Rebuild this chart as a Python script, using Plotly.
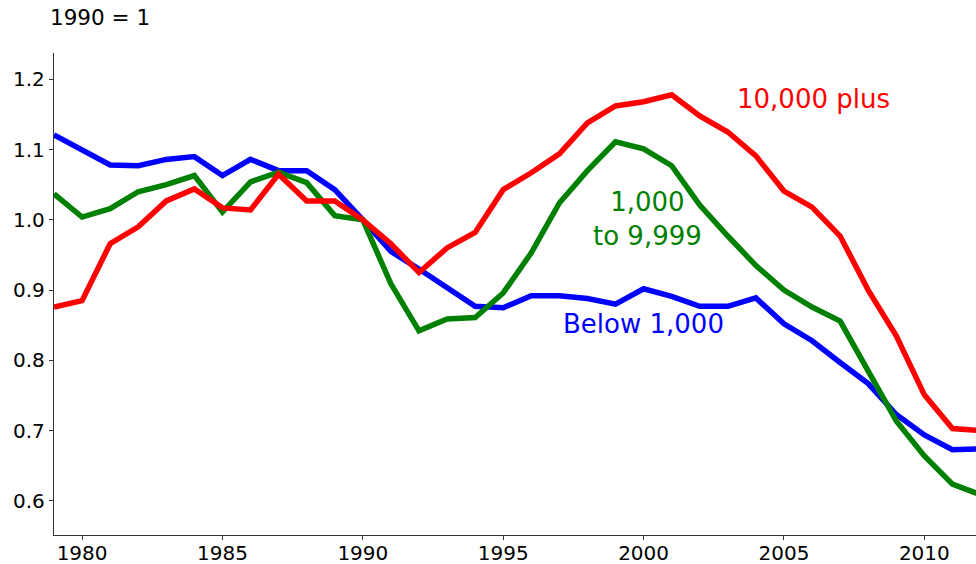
import plotly.graph_objects as go

years = list(range(1979, 2013))

below_1000 = [1.121, 1.100, 1.078, 1.077, 1.086, 1.090, 1.063, 1.086, 1.070, 1.070,
              1.043, 1.000, 0.955, 0.930, 0.903, 0.877, 0.875, 0.892, 0.892, 0.888,
              0.880, 0.902, 0.891, 0.877, 0.877, 0.889, 0.852, 0.828, 0.797, 0.767,
              0.723, 0.694, 0.673, 0.674]

mid_1000_9999 = [1.037, 1.004, 1.016, 1.040, 1.050, 1.063, 1.011, 1.054, 1.068, 1.053,
                 1.006, 1.000, 0.909, 0.842, 0.859, 0.861, 0.896, 0.953, 1.024, 1.070,
                 1.111, 1.101, 1.077, 1.021, 0.977, 0.935, 0.900, 0.876, 0.856, 0.785,
                 0.714, 0.664, 0.624, 0.609]

plus_10000 = [0.876, 0.885, 0.966, 0.990, 1.027, 1.044, 1.017, 1.014, 1.065, 1.027,
              1.027, 1.000, 0.966, 0.925, 0.960, 0.982, 1.043, 1.067, 1.094, 1.138,
              1.162, 1.168, 1.178, 1.148, 1.125, 1.091, 1.041, 1.018, 0.977, 0.900,
              0.835, 0.751, 0.703, 0.700]

series = [
    ("Below 1,000", below_1000, "#0000ff"),
    ("1,000 to 9,999", mid_1000_9999, "#008000"),
    ("10,000 plus", plus_10000, "#ff0000"),
]

fig = go.Figure()
for name, vals, color in series:
    fig.add_trace(go.Scatter(x=years, y=vals, mode="lines", name=name,
                             line=dict(color=color, width=5.5)))

font = "DejaVu Sans, sans-serif"

# Direct labels instead of a legend
labels = [
    ("10,000 plus", 2006.05, 1.172, "#ff0000"),
    ("1,000<br>to 9,999", 2000.15, 1.001, "#008000"),
    ("Below 1,000", 2000.0, 0.852, "#0000ff"),
]
for text, x, y, color in labels:
    fig.add_annotation(text=text, x=x, y=y, xref="x", yref="y", showarrow=False,
                       align="center", font=dict(family=font, size=26, color=color))

fig.add_annotation(text="1990 = 1", x=-0.006, y=1.073, xref="paper", yref="paper",
                   xanchor="left", yanchor="middle", showarrow=False,
                   font=dict(family=font, size=21.5, color="black"))

axis_style = dict(showgrid=False, zeroline=False, showline=True, linecolor="#333",
                  linewidth=1.3, ticks="outside", ticklen=4, tickcolor="#333",
                  automargin=False,
                  tickfont=dict(family=font, size=20, color="black"))

fig.update_xaxes(range=[1979, 2011.84], tickvals=[1980, 1985, 1990, 1995, 2000, 2005, 2010],
                 ticklabelstandoff=-4, **axis_style)
fig.update_yaxes(range=[0.5516, 1.2374], tickvals=[0.6, 0.7, 0.8, 0.9, 1.0, 1.1, 1.2],
                 tickformat=".1f", **axis_style)

fig.update_layout(
    width=976, height=564,
    margin=dict(l=54, r=0, t=53, b=29),
    showlegend=False,
    plot_bgcolor="white",
    paper_bgcolor="white",
)

# page body has a default 8px margin; drop it so the figure fills the window
fig.write_html("out.html", config={"displayModeBar": False},
               post_script="document.body.style.margin='0';")
